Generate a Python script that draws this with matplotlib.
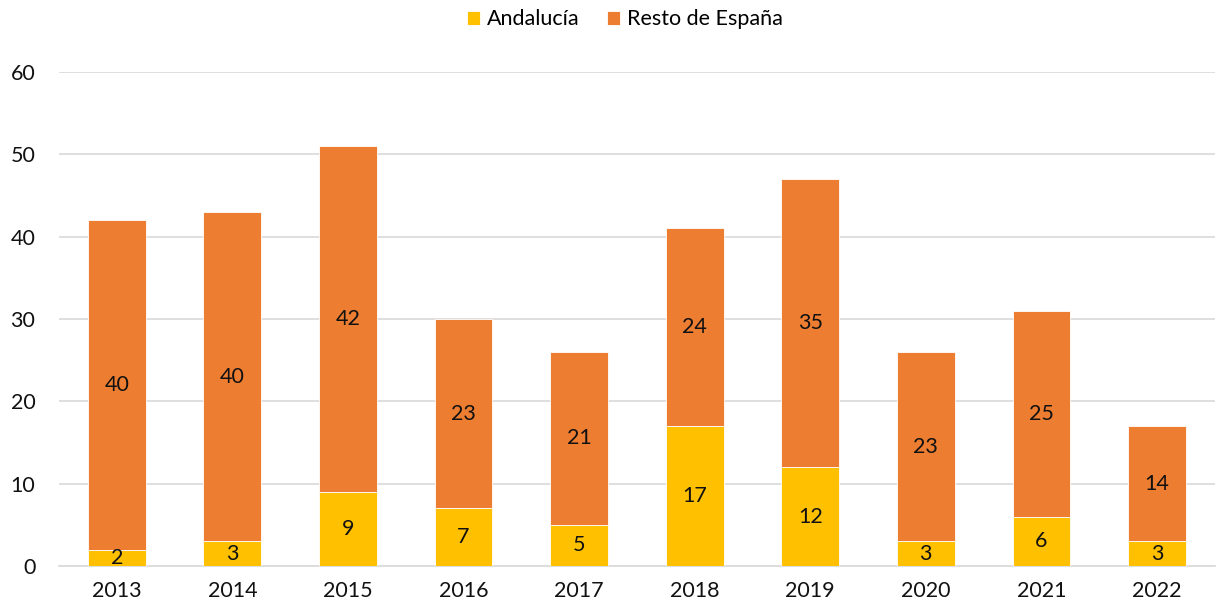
import matplotlib
matplotlib.use("Agg")
import matplotlib.pyplot as plt
import numpy as np

years = ['2013', '2014', '2015', '2016', '2017', '2018', '2019', '2020', '2021', '2022']
andalucia = [2, 3, 9, 7, 5, 17, 12, 3, 6, 3]
resto = [40, 40, 42, 23, 21, 24, 35, 23, 25, 14]

plt.rcParams['font.family'] = ['Lato', 'DejaVu Sans']
fs = 15.5

fig = plt.figure(figsize=(12.16, 6.09), dpi=100)
ax = fig.add_axes([0.0485, 0.0706, 0.9505, 0.8112])

x = np.arange(len(years))
b1 = ax.bar(x, andalucia, width=0.5, color='#FFC000', edgecolor='white', linewidth=0.6,
            label='Andalucía', zorder=3)
b2 = ax.bar(x, resto, width=0.5, bottom=andalucia, color='#ED7D31', edgecolor='white',
            linewidth=0.6, label='Resto de España', zorder=3)

# value labels in the middle of each segment
ax.bar_label(b1, labels=[str(v) for v in andalucia], label_type='center', fontsize=fs, color='#111111')
ax.bar_label(b2, labels=[str(v) for v in resto], label_type='center', fontsize=fs, color='#111111')

ax.set_xlim(-0.5, len(years) - 0.5)
ax.set_ylim(0, 60)
ax.set_yticks(range(0, 61, 10))
ax.set_xticks(x)
ax.set_xticklabels(years)
ax.yaxis.grid(True, color='#D9D9D9', linewidth=1.2, zorder=0)
for s in ['top', 'right', 'left']:
    ax.spines[s].set_visible(False)
ax.spines['bottom'].set_color('#D9D9D9')
ax.spines['bottom'].set_linewidth(1.2)
ax.tick_params(axis='both', length=0, labelsize=fs, colors='#111111')
ax.tick_params(axis='y', pad=17)
ax.tick_params(axis='x', pad=11)

fig.legend(handles=[b1, b2], loc='center', bbox_to_anchor=(0.514, 0.968), ncol=2, frameon=False,
           fontsize=fs, handlelength=0.6, handleheight=0.6, handletextpad=0.3, columnspacing=1.3)

fig.savefig('out.png', dpi=100)
